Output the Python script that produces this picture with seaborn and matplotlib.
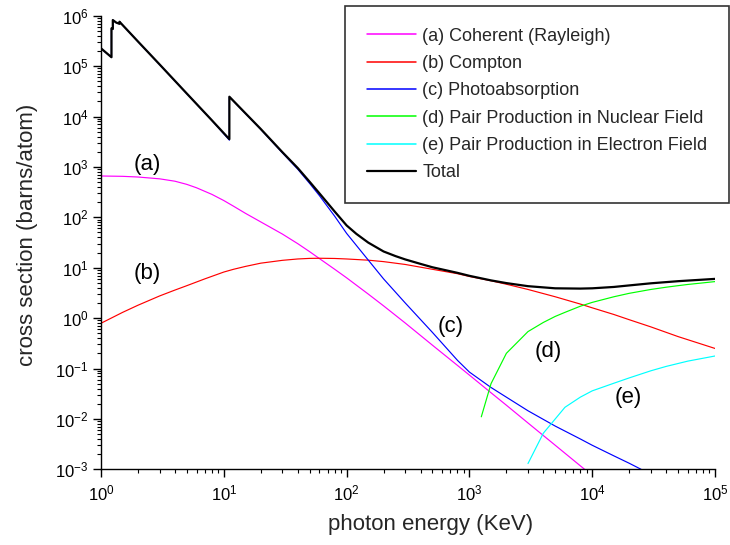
import numpy as np
import pandas as pd
import matplotlib
matplotlib.use("Agg")
import matplotlib.pyplot as plt
import seaborn as sns
from matplotlib.ticker import LogLocator, LogFormatterMathtext, NullFormatter

# ---------------- data ----------------
coh_E = [1, 1.5, 2, 3, 4, 5, 6, 8, 10, 12, 15, 20, 30, 40, 50, 60, 80, 100,
         150, 200, 300, 500, 800, 1000, 1500, 2000, 3000, 5000, 8500, 9000]
coh_s = [660, 650, 630, 580, 520, 450, 385, 285, 215, 166, 120, 81, 46.5, 30,
         20.8, 15.2, 9.3, 6.3, 3.0, 1.75, 0.8, 0.29, 0.115, 0.074, 0.033,
         0.0187, 0.0083, 0.003, 0.00104, 0.00093]

comp_E = [1, 1.5, 2, 3, 4, 5, 7, 10, 12, 15, 20, 30, 40, 50, 60, 80, 100, 150,
          200, 300, 500, 800, 1000, 1500, 2000, 3000, 5000, 8000, 10000, 15000,
          20000, 30000, 50000, 100000]
comp_s = [0.79, 1.3, 1.8, 2.75, 3.6, 4.4, 6.0, 8.2, 9.3, 10.6, 12.3, 14.0,
          14.9, 15.3, 15.4, 15.25, 14.9, 14.1, 13.2, 11.6, 9.3, 7.6, 6.7, 5.5,
          4.7, 3.7, 2.65, 1.9, 1.6, 1.18, 0.93, 0.67, 0.43, 0.25]

photo_E = [1, 1.217, 1.217, 1.248, 1.248, 1.33, 1.414, 1.414, 2, 3, 5, 8,
           11.1, 11.1, 15, 20, 30, 40, 50, 60, 80, 100, 150, 200, 300, 500,
           800, 1000, 1500, 2000, 3000, 5000, 8000, 10000, 15000, 20000, 25000]
photo_s = [2.24e5, 1.49e5, 5.59e5, 5.44e5, 8.19e5, 7.29e5, 6.89e5, 7.59e5,
           3.07e5, 1.075e5, 2.83e4, 8.35e3, 3.4e3, 2.45e4, 1.145e4, 5.55e3,
           1.9e3, 900, 470, 270, 105, 48, 14.2, 6.0, 2.0, 0.52, 0.145, 0.085,
           0.042, 0.027, 0.0145, 0.0072, 0.0040, 0.0030, 0.00185, 0.00132,
           0.00100]

pairn_E = [1250, 1500, 2000, 3000, 4000, 5000, 6000, 8000, 10000, 15000,
           20000, 30000, 40000, 50000, 60000, 80000, 100000]
pairn_s = [0.011, 0.05, 0.2, 0.54, 0.82, 1.08, 1.3, 1.72, 2.05, 2.65, 3.1,
           3.7, 4.1, 4.4, 4.65, 5.0, 5.3]

paire_E = [3000, 4000, 6000, 8000, 10000, 15000, 20000, 30000, 40000,
           60000, 100000]
paire_s = [0.0013, 0.0052, 0.017, 0.027, 0.036, 0.051, 0.065, 0.09, 0.11,
           0.14, 0.177]

tot_E = [1, 1.217, 1.217, 1.248, 1.248, 1.33, 1.414, 1.414, 2, 3, 5, 8, 11.1,
         11.1, 15, 20, 30, 40, 50, 60, 80, 100, 120, 150, 200, 250, 300, 400,
         500, 800, 1000, 1500, 2000, 3000, 5000, 8000, 10000, 15000, 20000,
         30000, 50000, 100000]
tot_s = [2.25e5, 1.5e5, 5.6e5, 5.45e5, 8.2e5, 7.3e5, 6.9e5, 7.6e5, 3.08e5,
         1.08e5, 2.85e4, 8.4e3, 3.55e3, 2.47e4, 1.16e4, 5.65e3, 1.96e3, 950,
         507, 300, 130, 69, 47, 31.5, 21, 17, 14.6, 11.9, 10.2, 7.9, 6.9, 5.6,
         4.95, 4.3, 3.9, 3.85, 3.9, 4.15, 4.45, 4.9, 5.4, 6.0]

labels = ["(a) Coherent (Rayleigh)", "(b) Compton", "(c) Photoabsorption",
          "(d) Pair Production in Nuclear Field",
          "(e) Pair Production in Electron Field", "Total"]
series = [(coh_E, coh_s), (comp_E, comp_s), (photo_E, photo_s),
          (pairn_E, pairn_s), (paire_E, paire_s), (tot_E, tot_s)]
colors = ["#FF00FF", "#FF0000", "#0000FF", "#00FF00", "#00FFFF", "#000000"]
widths = [0.85, 0.85, 0.85, 0.85, 0.85, 1.6]

annot_text = ["(a)", "(b)", "(c)", "(d)", "(e)"]
annot_x = [2.37, 2.4, 700, 4400, 19700]
annot_y = [1.1e3, 7.5, 0.67, 0.22, 0.026]

# ---------------- style ----------------
sns.set_theme(style="ticks")
plt.rcParams["font.family"] = ["Liberation Sans", "DejaVu Sans"]
plt.rcParams["mathtext.fontset"] = "custom"
plt.rcParams["mathtext.rm"] = "Liberation Sans"
plt.rcParams["mathtext.it"] = "Liberation Sans:italic"
plt.rcParams["mathtext.bf"] = "Liberation Sans:bold"
plt.rcParams["mathtext.default"] = "regular"

fig = plt.figure(figsize=(7.3, 5.45), dpi=100)
ax = fig.add_axes([101 / 730, 1 - 469.3 / 545, 614 / 730, 453.6 / 545])

for (E, s), lab, c, w in zip(series, labels, colors, widths):
    df = pd.DataFrame({"E": E, "s": s})
    sns.lineplot(data=df, x="E", y="s", sort=False, estimator=None,
                 color=c, lw=w, label=lab, ax=ax)

ax.set_xscale("log")
ax.set_yscale("log")
ax.set_xlim(1, 1e5)
ax.set_ylim(1e-3, 1e6)

for sp in ["top", "right"]:
    ax.spines[sp].set_visible(False)
for sp in ["left", "bottom"]:
    ax.spines[sp].set_color("black")
    ax.spines[sp].set_linewidth(1.0)

ax.xaxis.set_major_locator(LogLocator(base=10, numticks=20))
ax.yaxis.set_major_locator(LogLocator(base=10, numticks=20))
ax.xaxis.set_minor_locator(LogLocator(base=10, subs=np.arange(2, 10), numticks=100))
ax.yaxis.set_minor_locator(LogLocator(base=10, subs=np.arange(2, 10), numticks=100))
ax.xaxis.set_major_formatter(LogFormatterMathtext())
ax.yaxis.set_major_formatter(LogFormatterMathtext())
ax.xaxis.set_minor_formatter(NullFormatter())
ax.yaxis.set_minor_formatter(NullFormatter())

ax.tick_params(which="major", direction="out", length=5.5, width=1.0,
               colors="black", labelsize=12)
ax.tick_params(which="minor", direction="out", length=3.0, width=0.8,
               colors="black")
ax.tick_params(axis="x", which="major", pad=5)
ax.tick_params(axis="y", which="major", pad=3.5)

ax.set_xlabel("photon energy (KeV)", fontsize=16)
ax.set_ylabel("cross section (barns/atom)", fontsize=16)
ax.xaxis.set_label_coords(0.537, -0.098)
ax.yaxis.set_label_coords(-0.102, 0.517)

for t, x, y in zip(annot_text, annot_x, annot_y):
    ax.text(x, y, t, fontsize=16, ha="center", va="center", color="black")

leg = ax.legend(loc="upper right", bbox_to_anchor=(729 / 730, 1 - 6 / 545),
                bbox_transform=fig.transFigure, fontsize=13, frameon=True,
                fancybox=False, edgecolor="#333333", framealpha=1,
                borderpad=1.2, labelspacing=0.574, handlelength=2.75,
                handletextpad=0.32, borderaxespad=0)
leg.get_frame().set_linewidth(1.2)
for h, w in zip(leg.get_lines(), widths):
    h.set_linewidth(max(w, 1.1))

fig.savefig("out.png", dpi=100)
